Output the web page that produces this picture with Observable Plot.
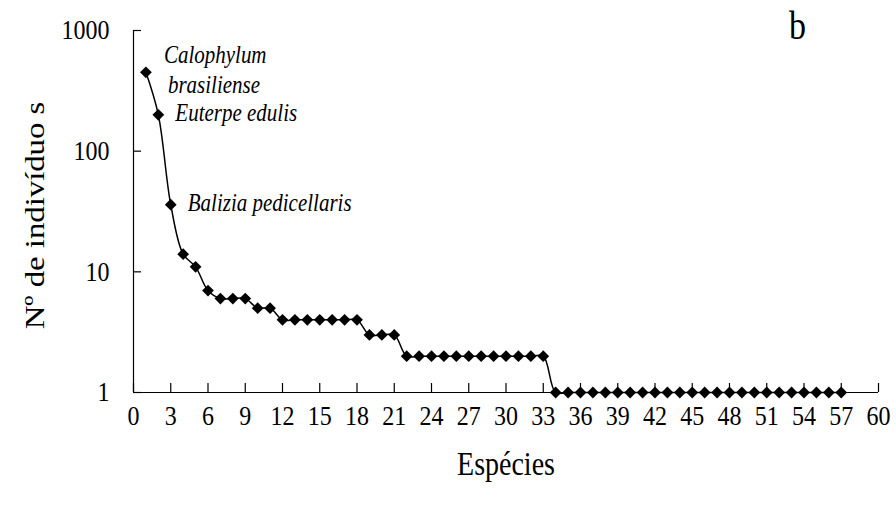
<!DOCTYPE html>
<html><head><meta charset="utf-8">
<script src="https://cdn.jsdelivr.net/npm/d3@7"></script>
<script src="https://cdn.jsdelivr.net/npm/@observablehq/plot@0.6"></script>
<style>
html,body{margin:0;padding:0;background:#fff}
#chart{width:896px;height:509px}
</style>
</head><body><div id="chart"></div>
<script>
// Number of individuals per species, ranked (species 1..57)
const counts = [450, 200, 36, 14, 11, 7, 6, 6, 6, 5, 5,
  4, 4, 4, 4, 4, 4, 4,
  3, 3, 3,
  2, 2, 2, 2, 2, 2, 2, 2, 2, 2, 2, 2,
  1, 1, 1, 1, 1, 1, 1, 1, 1, 1, 1, 1, 1, 1, 1, 1, 1, 1, 1, 1, 1, 1, 1, 1];
const xTicks = [0, 3, 6, 9, 12, 15, 18, 21, 24, 27, 30, 33, 36, 39, 42, 45, 48, 51, 54, 57, 60];
const yTicks = [1, 10, 100, 1000];
const xTitle = "Espécies";
const yTitle = "Nº de indivíduo s";
const panelLabel = "b";
const labelRanks = [1, 2, 3];
const labelNames = ["Calophylum", "Euterpe edulis", "Balizia pedicellaris"];
const labelName2 = "brasiliense";

const data = counts.map((n, i) => ({rank: i + 1, n}));
const ann = labelRanks.map((r, i) => ({rank: r, n: counts[r - 1], name: labelNames[i]}));

const W = 896, H = 509, mL = 133, mR = 18, mT = 30, mB = 117;
const FW = W - mL - mR, FH = H - mT - mB;
const serif = "'Liberation Serif', 'Times New Roman', serif";
const STRETCH = 1.17; // glyphs in the reference are taller than wide

const chart = Plot.plot({
  width: W, height: H,
  marginLeft: mL, marginRight: mR, marginTop: mT, marginBottom: mB,
  style: {fontFamily: serif, background: "#fff", color: "#000", overflow: "visible"},
  x: {domain: [0, 60], axis: null},
  y: {type: "log", domain: [1, 1000], axis: null},
  marks: [
    Plot.ruleY([1], {stroke: "#000", strokeWidth: 1.2}),
    Plot.ruleX([0], {stroke: "#000", strokeWidth: 1.2}),
    Plot.tickX(xTicks, {x: d => d, stroke: "#000", strokeWidth: 1.2, insetTop: FH - 9}),
    Plot.tickY(yTicks, {y: d => d, stroke: "#000", strokeWidth: 1.2, insetRight: FW - 8}),
    Plot.axisX({ticks: xTicks, tickSize: 0, tickPadding: 13, fontSize: 24, label: null, tickFormat: d => String(d)}),
    Plot.axisY({ticks: yTicks, tickSize: 0, tickPadding: 24, fontSize: 24, label: null, tickFormat: d => String(d)}),
    Plot.line(data, {x: "rank", y: "n", stroke: "#000", strokeWidth: 1.5, curve: "catmull-rom"}),
    Plot.dot(data, {x: "rank", y: "n", symbol: "diamond2", r: 5.3, fill: "#000", stroke: "none"}),
    Plot.text(ann.slice(0, 1), {x: "rank", y: "n", text: "name", textAnchor: "start", lineAnchor: "middle", dx: 18, dy: -17, fontSize: 21, fontStyle: "italic"}),
    Plot.text(ann.slice(0, 1), {x: "rank", y: "n", text: () => labelName2, textAnchor: "start", lineAnchor: "middle", dx: 22, dy: 12.5, fontSize: 21, fontStyle: "italic"}),
    Plot.text(ann.slice(1), {x: "rank", y: "n", text: "name", textAnchor: "start", lineAnchor: "middle", dx: 17, dy: -2, fontSize: 21, fontStyle: "italic"}),
    Plot.text([xTitle], {frameAnchor: "bottom", textAnchor: "middle", lineAnchor: "middle", dy: 72, fontSize: 28}),
    Plot.text([yTitle], {frameAnchor: "left", textAnchor: "middle", lineAnchor: "middle", rotate: -90, dx: -98, dy: 4, fontSize: 28}),
    Plot.text([panelLabel], {frameAnchor: "top-right", textAnchor: "middle", lineAnchor: "middle", dx: -81, dy: -4, fontSize: 34})
  ]
});

// Stretch glyphs vertically (along the text direction for rotated text), about each text's anchor point
d3.select(chart).selectAll("text").each(function() {
  const t = this.getAttribute("transform") || "";
  const rotated = /rotate\(/.test(t);
  this.setAttribute("transform", t + (rotated ? ` scale(${STRETCH},1)` : ` scale(1,${STRETCH})`));
});

document.getElementById("chart").appendChild(chart);
</script>
</body></html>
